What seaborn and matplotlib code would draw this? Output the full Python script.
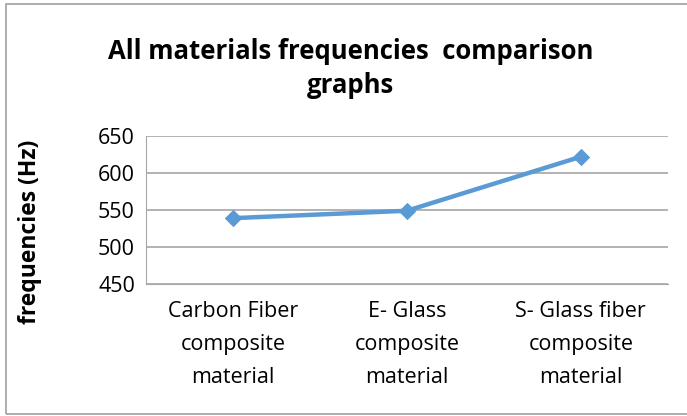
import numpy as np
import pandas as pd
import seaborn as sns
import matplotlib
matplotlib.use("Agg")
import matplotlib.pyplot as plt
from matplotlib.patches import Rectangle

# datos
materiales = ["Carbon Fiber\ncomposite\nmaterial",
              "E- Glass\ncomposite\nmaterial",
              "S- Glass fiber\ncomposite\nmaterial"]
frecuencias = [539, 549, 622]
y_ticks = [450, 500, 550, 600, 650]

df = pd.DataFrame({"material": materiales, "freq": frecuencias})

sns.set_style("white")
plt.rcParams['font.family'] = ['Open Sans', 'DejaVu Sans']

fig = plt.figure(figsize=(6.87, 4.16), dpi=100)
ax = fig.add_axes([0.2125, 0.3173, 0.7595, 0.3557])

sns.lineplot(data=df, x="material", y="freq", ax=ax, color="#5B9BD5",
             marker="D", markersize=8, markeredgecolor="#5B9BD5",
             linewidth=3.2, sort=False)

ax.set_xlim(-0.5, 2.5)
ax.set_ylim(450, 650)
ax.set_yticks(y_ticks)
ax.grid(axis="y", color="#A6A6A6", linewidth=1.2)
ax.set_axisbelow(True)
for s in ["top", "right"]:
    ax.spines[s].set_visible(False)
ax.spines["left"].set_color("#A6A6A6")
ax.spines["bottom"].set_color("#A6A6A6")
ax.tick_params(axis="both", length=0, labelsize=15.5, colors="black")
ax.tick_params(axis="y", pad=8)
ax.tick_params(axis="x", pad=12)
for lbl in ax.get_xticklabels():
    lbl.set_linespacing(1.75)

ax.set_xlabel("")
ax.set_ylabel("frequencies (Hz)", fontsize=16.5, fontweight="bold", color="black")
ax.yaxis.set_label_coords(-0.2, 0.35)

fig.text(0.51, 0.835, "All materials frequencies  comparison\ngraphs",
         ha="center", va="center", fontsize=18.5, fontweight="bold",
         color="black", linespacing=1.3)

# borde del grafico
fig.patches.append(Rectangle((0.0087, 0.005), 1.2, 0.985, transform=fig.transFigure,
                             fill=False, edgecolor="#A0A0A0", linewidth=1.2))

plt.savefig("out.png", dpi=100)
